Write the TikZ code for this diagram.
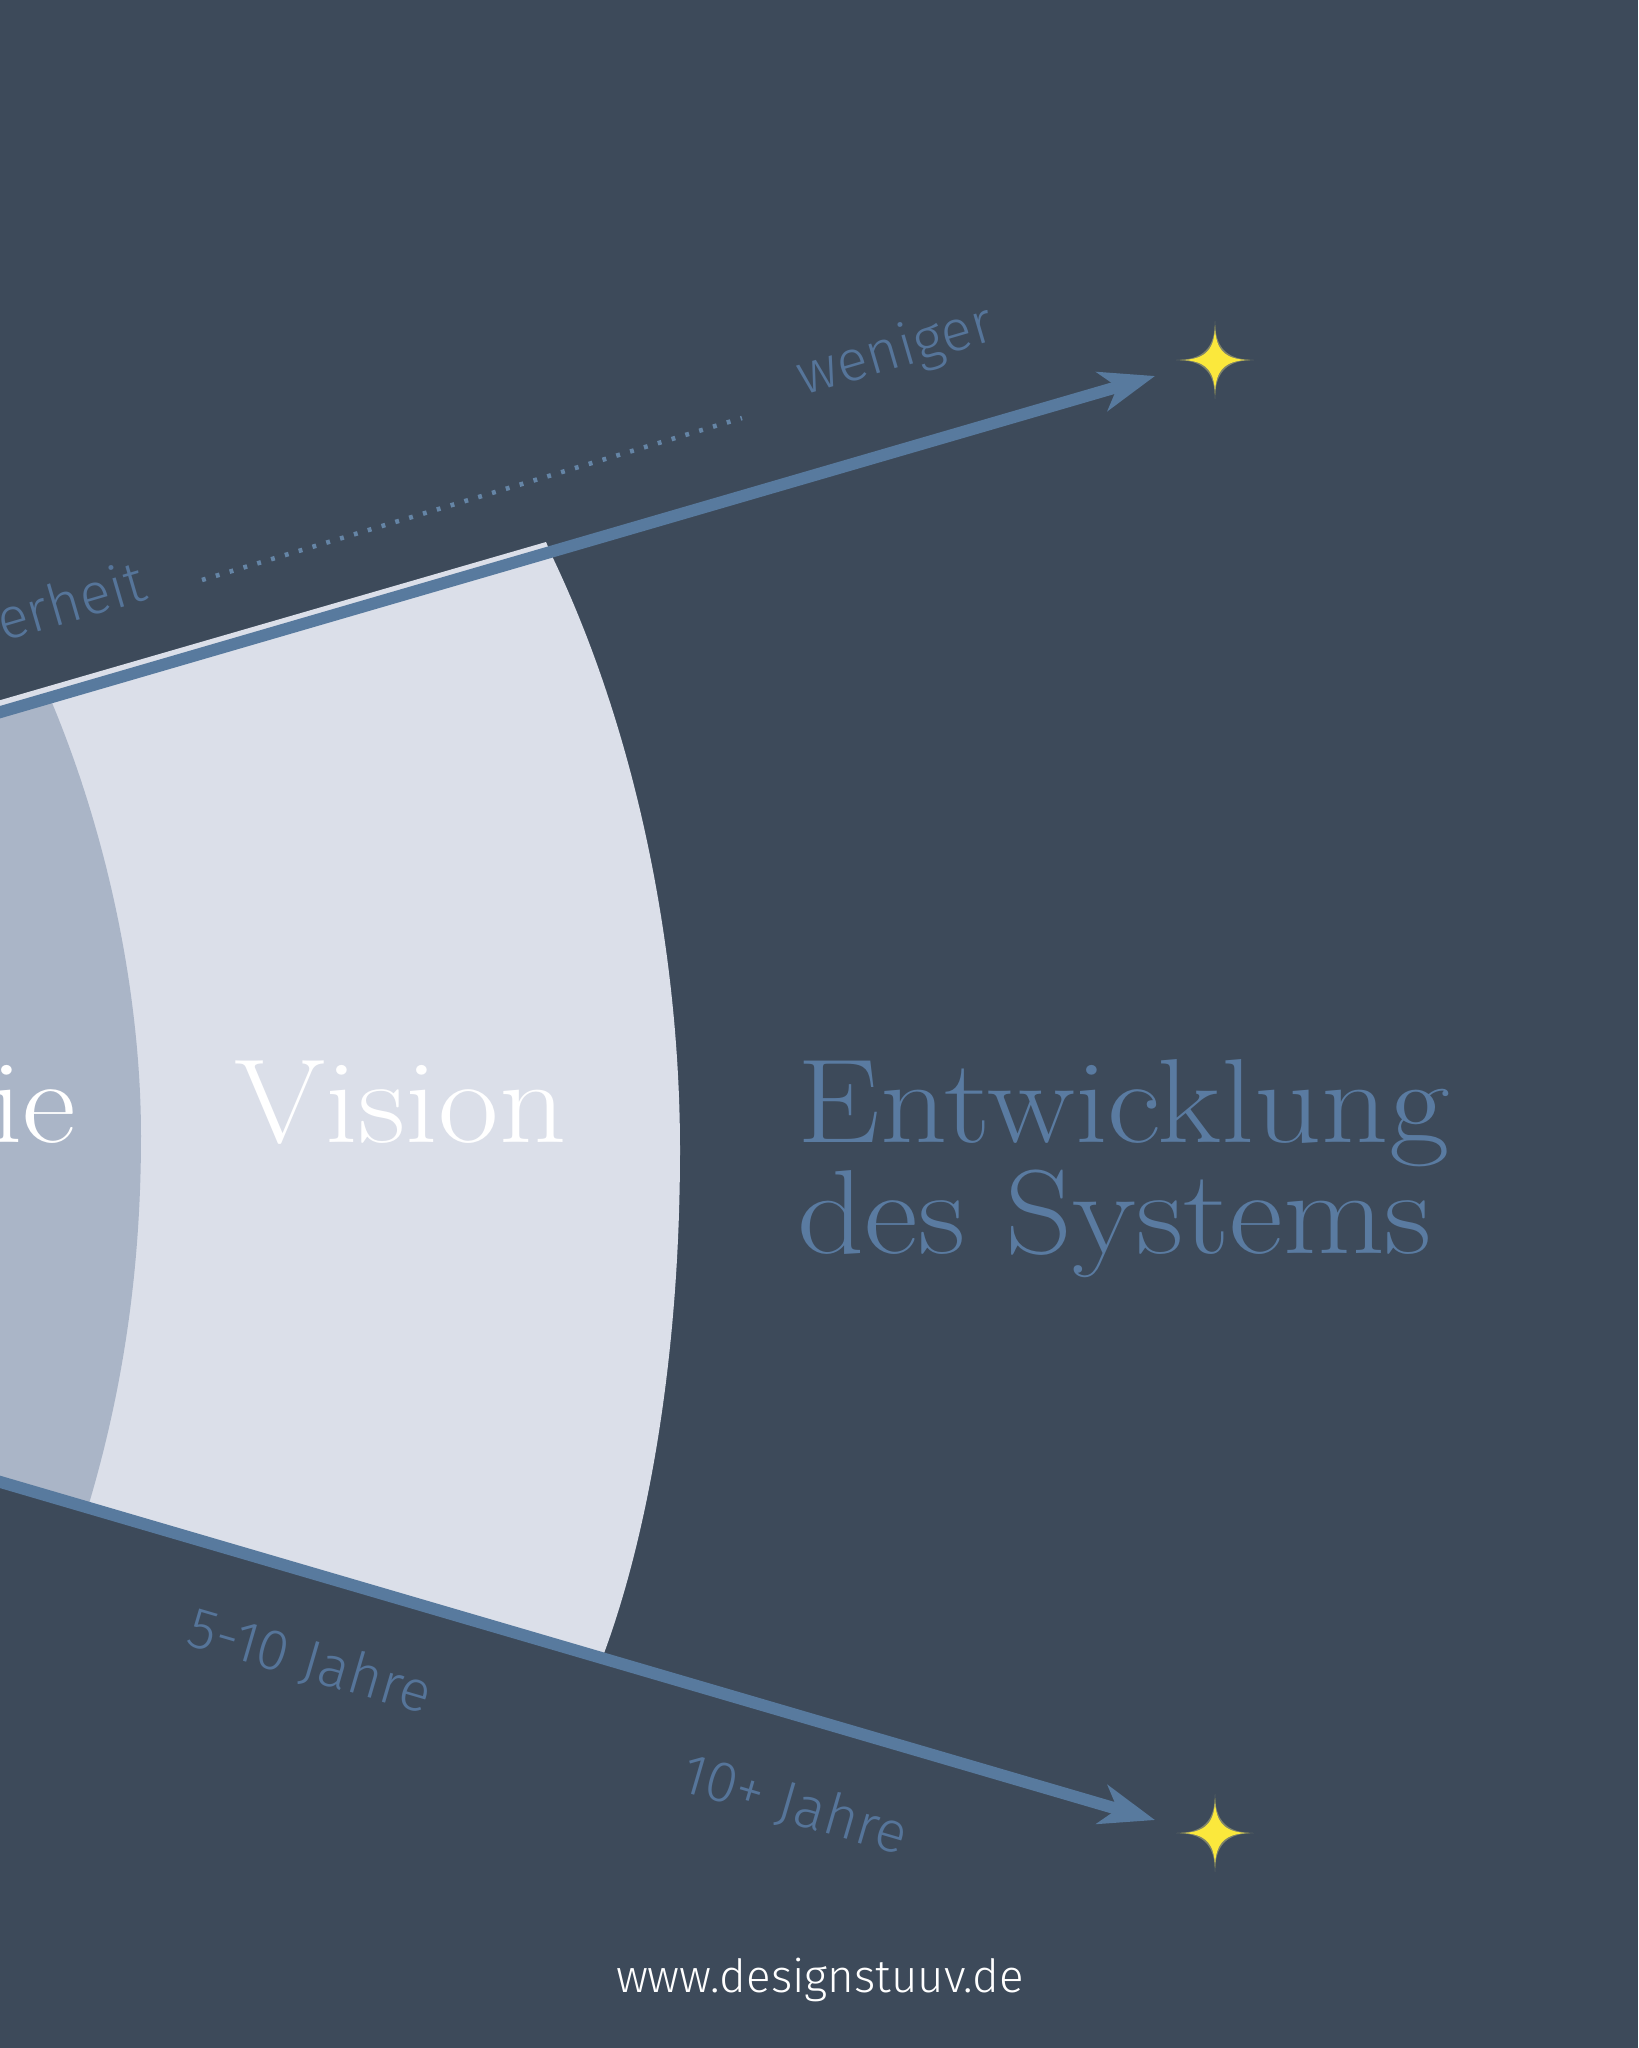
\documentclass[tikz,border=0pt]{standalone}
\usepackage{fontspec}
\newfontfamily\labelfont{Fira Sans Light}
\newfontfamily\titlefont{lmroman17-regular.otf}[FakeStretch=1.1]
\usetikzlibrary{arrows.meta}

\definecolor{bgslate}{HTML}{3D4A5A}
\definecolor{visionfill}{HTML}{DBDFE9}
\definecolor{strategyfill}{HTML}{AAB5C7}
\definecolor{axisblue}{HTML}{587A9E}
\definecolor{titleblue}{HTML}{5A7BA1}
\definecolor{labelblue}{HTML}{56759A}
\definecolor{sparkyellow}{HTML}{FBE83C}

\tikzset{
    pics/sparkle/.style={
        code={
            \fill[sparkyellow!60, opacity=0.35]
                (0,39) .. controls (0,12) and (12,0) .. (39,0)
                .. controls (12,0) and (0,-12) .. (0,-39)
                .. controls (0,-12) and (-12,0) .. (-39,0)
                .. controls (-12,0) and (0,12) .. cycle;
            \fill[sparkyellow]
                (0,35) .. controls (0,10) and (10,0) .. (35,0)
                .. controls (10,0) and (0,-10) .. (0,-35)
                .. controls (0,-10) and (-10,0) .. (-35,0)
                .. controls (-10,0) and (0,10) .. cycle;
        }
    }
}

\begin{document}
\begin{tikzpicture}[x=0.01cm, y=-0.01cm,
    bigword/.style={inner sep=0pt, font=\titlefont\fontsize{34}{40}\selectfont},
    axislabel/.style={inner sep=0pt, text=labelblue,
        font=\labelfont\fontsize{16.4}{19}\selectfont},
    timeaxis/.style={draw=axisblue, line width=3.4pt,
        -{Stealth[length=15.6pt, width=11.4pt, inset=4.5pt]}}]
    % Background
    \fill[bgslate] (0,0) rectangle (1638,2048);
    \useasboundingbox (0,0) rectangle (1638,2048);
    \clip (0,0) rectangle (1638,2048);

    % Ends of the two axes
    \coordinate (upstart) at (-20,718);
    \coordinate (uptip) at (1155,376);
    \coordinate (lowstart) at (-20,1476);
    \coordinate (lowtip) at (1155,1820);
    \coordinate (dotstart) at (202,580);
    \coordinate (dotend) at (742,418);

    % Add the bands
    \fill[visionfill] (-20,706) -- (546,542) -- (552,556)
        .. controls (640,740) and (680,960) .. (680,1150)
        .. controls (680,1350) and (650,1530) .. (603,1656)
        -- (lowstart) -- cycle;
    \fill[strategyfill] (upstart) -- (50,698)
        .. controls (110,840) and (141,1000) .. (141,1136)
        .. controls (141,1280) and (120,1400) .. (88,1507)
        -- (lowstart) -- cycle;

    % Add the words
    \node[bigword, text=white, anchor=base east] (strategy) at (77,1142) {Strategie};
    \node[bigword, text=white, anchor=base west] (vision) at (234,1142) {Vision};
    \node[bigword, text=titleblue, anchor=base west] (develop) at (797,1142) {Entwicklung};
    \node[bigword, text=titleblue, anchor=base west] (system) at (797,1253) {des Systems};

    % Labels along the axes
    \node[axislabel, rotate=16.3, anchor=base east] (unsure) at (150,599) {Unsicherheit};
    \node[axislabel, rotate=16.3, anchor=base west] (less) at (803,396) {weniger};
    \node[axislabel, rotate=-16.3, anchor=base west] (midterm) at (184,1644) {5-10 Jahre};
    \node[axislabel, rotate=-16.3, anchor=base west] (longterm) at (678,1790) {10+ Jahre};

    % Connect with arrows
    \draw[axisblue!92!white, line width=1.3pt, dash pattern=on 1.1pt off 3pt] (dotstart) -- (dotend);
    \draw[timeaxis] (upstart) -- (uptip);
    \draw[timeaxis] (lowstart) -- (lowtip);

    % Stars at the tips
    \pic (topstar) at (1215,360) {sparkle};
    \pic (lowstar) at (1215,1833) {sparkle};

    % Footer
    \node[inner sep=0pt, text=white, font=\labelfont\fontsize{13}{16}\selectfont,
          anchor=base] (web) at (820,1992) {www.designstuuv.de};
\end{tikzpicture}
\end{document}
